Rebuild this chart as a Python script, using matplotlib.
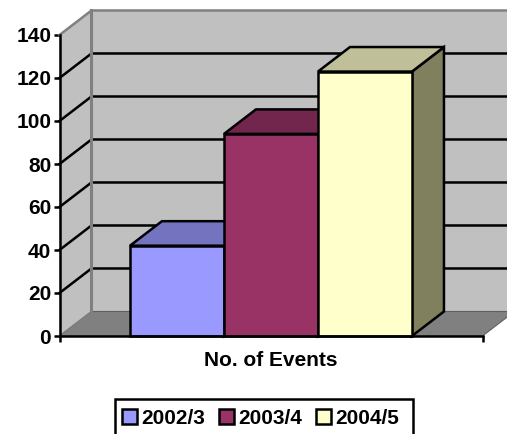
#!/usr/bin/env python

import matplotlib
matplotlib.use('Agg')
import matplotlib.pyplot as plt
from matplotlib.patches import Patch, Rectangle

seasons = ['2002/3', '2003/4', '2004/5']
events = [42, 94, 123]
front_colors = ['#9999FF', '#993366', '#FFFFCC']
top_colors = ['#7373BF', '#73264D', '#BFBF99']
side_colors = ['#4D4D80', '#4D1A33', '#80805F']
yticks = [0, 20, 40, 60, 80, 100, 120, 140]
xlabel = 'No. of Events'

W, H = 507, 434
XMAX = 4.5
YMAX = 140
# offset of the back wall, in data units
DX = 0.34
DY = 11.4
GAP = 0.75
LW = 1.8

plt.rcParams['font.family'] = ['Liberation Sans', 'DejaVu Sans']
plt.rcParams['font.weight'] = 'bold'
plt.rcParams['font.size'] = 15

fig = plt.figure(figsize=(W / 100, H / 100), dpi=100, facecolor='white')
ax = fig.add_axes([59.5 / W, (H - 336) / H, (482.5 - 59.5) / W, (336 - 35) / H])
ax.set_xlim(0, XMAX)
ax.set_ylim(0, YMAX)
ax.patch.set_visible(False)


def face(xs, ys, color, z, edge='black', lw=LW):
    ax.fill(xs, ys, facecolor=color, edgecolor=edge, linewidth=lw,
            joinstyle='miter', clip_on=False, zorder=z)


# walls and floor
face([0, DX, DX, 0], [0, DY, YMAX + DY, YMAX], '#C0C0C0', 1, edge='none', lw=0)
face([DX, XMAX + DX, XMAX + DX, DX], [DY, DY, YMAX + DY, YMAX + DY], '#C0C0C0', 1,
     edge='none', lw=0)
face([0, XMAX, XMAX + DX, DX], [0, 0, DY, DY], '#808080', 1, edge='#606060', lw=0.8)

for t in yticks[1:-1]:
    ax.plot([0, DX, XMAX + DX], [t, t + DY, t + DY], color='black', lw=LW,
            clip_on=False, zorder=2, solid_joinstyle='miter')

# wall outline
ax.plot([0, DX, XMAX + DX], [YMAX, YMAX + DY, YMAX + DY], color='#808080', lw=LW,
        clip_on=False, zorder=2)
ax.plot([DX, DX], [DY, YMAX + DY], color='#808080', lw=2.2, clip_on=False, zorder=2)
ax.plot([0, DX], [0, DY], color='#808080', lw=1, clip_on=False, zorder=2)

# bars, each with its front, top and right faces
for i in range(len(events)):
    x0 = GAP + i
    x1 = x0 + 1
    v = events[i]
    face([x1, x1 + DX, x1 + DX, x1], [0, DY, v + DY, v], side_colors[i], 3 + i)
    face([x0, x1, x1 + DX, x0 + DX], [v, v, v + DY, v + DY], top_colors[i], 3 + i)
    face([x0, x1, x1, x0], [0, 0, v, v], front_colors[i], 3 + i)

for s in ['top', 'right']:
    ax.spines[s].set_visible(False)
for s in ['left', 'bottom']:
    ax.spines[s].set_linewidth(LW)
    ax.spines[s].set_zorder(10)

ax.set_yticks(yticks)
ax.set_xticks([0, XMAX])
ax.set_xticklabels([])
ax.tick_params(axis='both', length=4, width=LW, pad=2)
ax.set_xlabel(xlabel, fontweight='bold', labelpad=5)

# legend box runs off the bottom of the figure
fig.add_artist(Rectangle((114.5 / W, (H - 440) / H), 298 / W, 41 / H, facecolor='white',
                         edgecolor='black', linewidth=LW, transform=fig.transFigure))
handles = [Patch(facecolor=front_colors[i], edgecolor='black', linewidth=LW, label=seasons[i])
           for i in range(len(seasons))]
leg = fig.legend(handles=handles, ncol=3, loc='upper left',
                 bbox_to_anchor=(122 / W, (H - 409) / H), frameon=False, borderpad=0,
                 handlelength=0.7, handleheight=0.7, handletextpad=0.2, columnspacing=0.7,
                 borderaxespad=0, labelspacing=0)

fig.savefig('out.png', dpi=100)
